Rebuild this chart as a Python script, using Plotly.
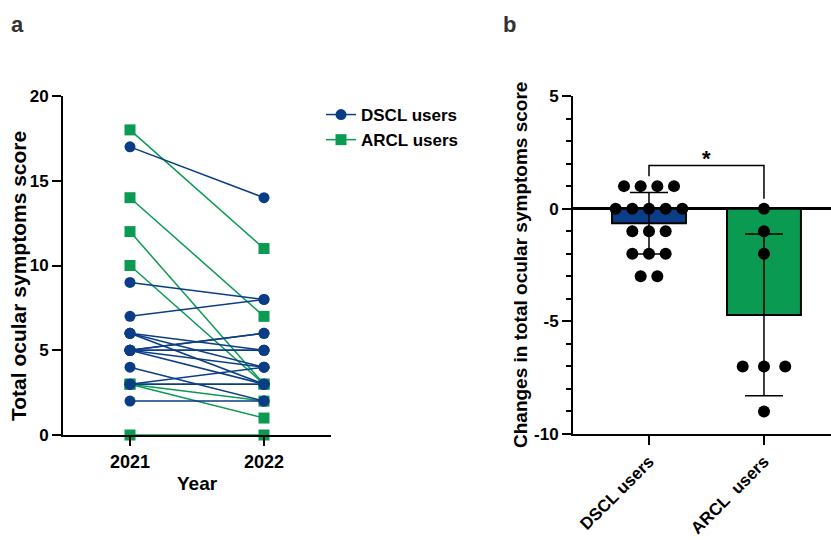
import plotly.graph_objects as go
import numpy as np

# ---------------- data ----------------
years = ["2021", "2022"]
dscl_2021 = [17, 9, 7, 6, 6, 6, 5, 5, 5, 5, 5, 5, 4, 3, 3, 3, 2]
dscl_2022 = [14, 8, 8, 3, 4, 5, 6, 6, 5, 5, 3, 4, 2, 4, 3, 3, 2]
arcl_2021 = [18, 14, 12, 10, 3, 3, 0]
arcl_2022 = [11, 7, 3, 3, 2, 1, 0]

groups = ["DSCL users", "ARCL\u00a0 users"]
left_yticks = [0, 5, 10, 15, 20]
right_yticks = [-10, -5, 0, 5]
right_yticklabels = ["-10", "-5", "0", "5"]

# ---------------- styles ----------------
BLUE = "#0b3d86"
GREEN = "#0b9a52"
FONT = "Liberation Sans"
W, H = 831, 540


def px_x(p):
    return p / W


def px_y(p):
    return 1 - p / H


fig = go.Figure()

# ---- panel a: paired lines ----
for i, (a, b) in enumerate(zip(arcl_2021, arcl_2022)):
    fig.add_trace(go.Scatter(
        x=[0, 1], y=[a, b], mode="lines+markers",
        line=dict(color=GREEN, width=1.5),
        marker=dict(symbol="square", size=11, color=GREEN),
        name="ARCL users", legendgroup="arcl", legendrank=2,
        showlegend=(i == 0), cliponaxis=False,
        xaxis="x", yaxis="y"))

for i, (a, b) in enumerate(zip(dscl_2021, dscl_2022)):
    fig.add_trace(go.Scatter(
        x=[0, 1], y=[a, b], mode="lines+markers",
        line=dict(color=BLUE, width=1.5),
        marker=dict(symbol="circle", size=11, color=BLUE),
        name="DSCL users", legendgroup="dscl", legendrank=1,
        showlegend=(i == 0), cliponaxis=False,
        xaxis="x", yaxis="y"))

# ---- panel b: changes ----
dscl_change = np.array(dscl_2022) - np.array(dscl_2021)
arcl_change = np.array(arcl_2022) - np.array(arcl_2021)
changes = [dscl_change, arcl_change]
means = [c.mean() for c in changes]
sds = [c.std(ddof=1) for c in changes]

fig.add_trace(go.Bar(
    x=[0, 1], y=means, width=0.643,
    marker=dict(color=[BLUE, GREEN], line=dict(color="black", width=2)),
    error_y=dict(type="data", array=sds, color="black", thickness=1.5, width=19),
    showlegend=False, xaxis="x2", yaxis="y2"))

spacings = [0.145, 0.185]
for gi, c in enumerate(changes):
    xs, ys = [], []
    for v in sorted(set(c.tolist()), reverse=True):
        n = int((c == v).sum())
        for k in range(n):
            xs.append(gi + (k - (n - 1) / 2) * spacings[gi])
            ys.append(v)
    fig.add_trace(go.Scatter(
        x=xs, y=ys, mode="markers",
        marker=dict(size=12, color="black"),
        showlegend=False, cliponaxis=False, xaxis="x2", yaxis="y2"))

# significance bracket derived from data maxima
top = max(c.max() for c in changes) + 0.92
legs = [c.max() + 0.44 for c in changes]
fig.add_trace(go.Scatter(
    x=[0, 0, 1, 1], y=[legs[0], top, top, legs[1]], mode="lines",
    line=dict(color="black", width=1.5), showlegend=False,
    cliponaxis=False, xaxis="x2", yaxis="y2"))

axis_common = dict(showline=True, linecolor="black", linewidth=2,
                   ticks="outside", ticklen=9, tickwidth=2, tickcolor="black",
                   showgrid=False, zeroline=False, automargin=False,
                   tickfont=dict(family=FONT, size=17, color="black", weight="bold"))
xtickfont = dict(family=FONT, size=18, color="black", weight="bold")
cattickfont = dict(family=FONT, size=17, color="black", weight="bold")


def ann(text, x, y, size, angle=0, color="black"):
    return dict(text=text, x=px_x(x), y=px_y(y), xref="paper", yref="paper",
                xanchor="center", yanchor="middle", textangle=angle, showarrow=False,
                font=dict(family=FONT, size=size, color=color, weight="bold"))


fig.update_layout(
    template="none",
    width=W, height=H, autosize=False,
    margin=dict(l=0, r=0, t=0, b=0, pad=0),
    paper_bgcolor="white", plot_bgcolor="white",
    xaxis=dict(domain=[px_x(63), px_x(331)], range=[-0.5, 1.5],
               tickvals=[0, 1], ticktext=years, anchor="y",
               **{**axis_common, "tickfont": xtickfont}),
    yaxis=dict(domain=[px_y(435), px_y(96)], range=[0, 20],
               tickvals=left_yticks, anchor="x", **axis_common),
    xaxis2=dict(domain=[px_x(573), 1.0], range=[-0.661, 1.583],
                tickvals=[0, 1], ticktext=groups, tickangle=-45,
                anchor="y2", **{**axis_common, "tickfont": cattickfont}),
    yaxis2=dict(domain=[px_y(434), px_y(96)], range=[-10, 5],
                tickvals=right_yticks, ticktext=right_yticklabels,
                minor=dict(dtick=1, ticklen=5, tickwidth=1.5, tickcolor="black", ticks="outside"),
                anchor="x2", **{**axis_common, "zeroline": True},
                zerolinecolor="black", zerolinewidth=2.5),
    legend=dict(x=px_x(321), y=px_y(97), xanchor="left", yanchor="top",
                itemwidth=30,
                font=dict(family=FONT, size=17, color="black", weight="bold"),
                tracegroupgap=0, bgcolor="rgba(0,0,0,0)"),
    annotations=[
        ann("a", 17, 25, 22, color="#333333"),
        ann("b", 510, 25, 22, color="#333333"),
        ann("Total ocular symptoms score", 18, 276, 21, angle=-90),
        ann("Year", 197, 483, 19),
        ann("Changes in total ocular symptoms score", 520, 265, 19, angle=-90),
        dict(text="*", x=0.5, y=top + 0.3, xref="x2", yref="y2",
             xanchor="center", yanchor="middle", showarrow=False,
             font=dict(family=FONT, size=22, color="black", weight="bold")),
    ],
)

fig.write_html("out.html", config={"displayModeBar": False},
               post_script="document.body.style.margin='0';document.body.style.overflow='hidden';")
